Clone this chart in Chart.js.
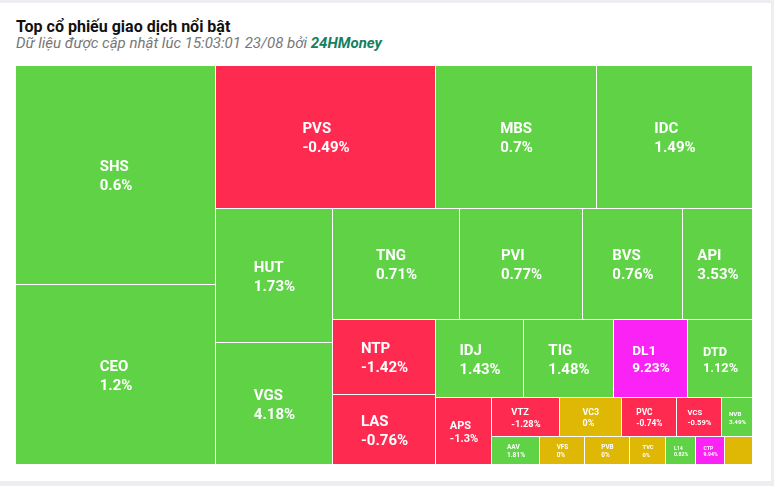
<!DOCTYPE html>
<html lang="vi">
<head>
<meta charset="utf-8">
<title>Top cổ phiếu giao dịch nổi bật</title>
<script src="https://cdn.jsdelivr.net/npm/chart.js@4.4.1/dist/chart.umd.min.js"></script>
<style>
  html, body { margin: 0; padding: 0; }
  body {
    width: 774px; height: 486px; background: #eceef2;
    font-family: Roboto, "Noto Sans", sans-serif;
    position: relative; overflow: hidden;
  }
  .card { position: absolute; left: 0; top: 3px; width: 771px; height: 478px; background: #fff; }
  .title { position: absolute; left: 16px; top: 17px; font-size: 16px; font-weight: 700; color: #111; line-height: 20px; white-space: nowrap; }
  .sub { position: absolute; left: 16px; top: 34px; font-size: 15px; font-style: italic; color: #777; line-height: 18px; white-space: nowrap; }
  .sub b { color: #14805f; }
  .chart-box { position: absolute; left: 16px; top: 66px; width: 737px; height: 399px; }
</style>
</head>
<body>
<div class="card"></div>
<div class="title">Top cổ phiếu giao dịch nổi bật</div>
<div class="sub">Dữ liệu được cập nhật lúc 15:03:01 23/08 bởi <b>24HMoney</b></div>
<div class="chart-box"><canvas id="treemap"></canvas></div>

<script>
// tickers, % change and trading size (cell area), in the order the site sends them
const tickers = ['SHS', 'CEO', 'PVS', 'MBS', 'IDC', 'HUT', 'VGS', 'TNG', 'PVI', 'BVS',
                 'API', 'NTP', 'LAS', 'IDJ', 'TIG', 'DL1', 'DTD', 'APS', 'VTZ', 'VC3',
                 'PVC', 'VCS', 'NVB', 'AAV', 'VFS', 'PVB', 'TVC', 'L14', 'CTP', ''];
const changes = [0.6, 1.2, -0.49, 0.7, 1.49, 1.73, 4.18, 0.71, 0.77, 0.76,
                 3.53, -1.42, -0.76, 1.43, 1.48, 9.23, 1.12, -1.3, -1.28, 0,
                 -0.74, -0.59, 3.49, 1.81, 0, 0, 0, 0.82, 9.94, 0];
const volumes = [4380, 3600, 3146, 2302, 2231, 1568, 1427, 1410, 1365, 1110,
                 777, 773, 721, 686, 702, 577, 507, 375, 265, 242,
                 215, 176, 121, 134, 126, 126, 101, 84, 81, 78];

const GREEN = '#5fd246', RED = '#ff2a50', PURPLE = '#fb22f5', YELLOW = '#deb804';

function cellColor(pct) {
  if (pct >= 9) return PURPLE;   // tran
  if (pct > 0) return GREEN;
  if (pct < 0) return RED;
  return YELLOW;
}

// squarified layout, direction flips after every strip
function layoutTreemap(areas, W, H) {
  const rects = [];
  let rx = 0, ry = 0, rw = W, rh = H;
  let vertical = true;
  let row = [], sum = 0;
  const ratio = (a, b) => Math.max(a / b, b / a);
  const flush = () => {
    if (vertical) {
      const colW = sum / rh;
      let y = ry;
      row.forEach(i => { const h = areas[i] / colW; rects[i] = {x: rx, y: y, w: colW, h: h}; y += h; });
      rx += colW; rw -= colW;
    } else {
      const rowH = sum / rw;
      let x = rx;
      row.forEach(i => { const w = areas[i] / rowH; rects[i] = {x: x, y: ry, w: w, h: rowH}; x += w; });
      ry += rowH; rh -= rowH;
    }
    vertical = !vertical;
    row = []; sum = 0;
  };
  areas.forEach((a, i) => {
    if (row.length) {
      const last = areas[row[row.length - 1]];
      const side = vertical ? rh : rw;
      const oldT = sum / side, newT = (sum + a) / side;
      if (ratio(oldT, last / oldT) < ratio(newT, last / newT)) flush();
    }
    row.push(i); sum += a;
  });
  if (row.length) flush();
  return rects;
}

class CellElement extends Chart.Element {
  static id = 'cell';
  static defaults = { backgroundColor: '#ccc', borderWidth: 1, labelColor: '#fff' };

  draw(ctx) {
    const o = this.options;
    const x0 = Math.round(this.x), y0 = Math.round(this.y);
    const x1 = Math.round(this.x + this.width), y1 = Math.round(this.y + this.height);
    ctx.save();
    ctx.fillStyle = o.backgroundColor;
    ctx.fillRect(x0, y0, x1 - x0 - o.borderWidth, y1 - y0 - o.borderWidth);

    const lines = this.lines || [];
    if (lines.length && lines[0]) {
      const f = Math.min(15, 0.18 * Math.sqrt(this.width * this.height));
      ctx.font = 'bold ' + f.toFixed(2) + 'px Roboto, "Noto Sans", sans-serif';
      ctx.fillStyle = o.labelColor;
      ctx.textAlign = 'left';
      ctx.textBaseline = 'alphabetic';
      const gap = 1.25 * f, capH = 0.711 * f;
      const blockW = Math.max(...lines.map(t => ctx.measureText(t).width));
      const cx = this.x + this.width / 2, cy = this.y + this.height / 2;
      const left = cx - blockW / 2;
      const top = cy - (capH + gap * (lines.length - 1)) / 2;
      lines.forEach((t, k) => ctx.fillText(t, left, top + capH + k * gap));
    }
    ctx.restore();
  }
}

class TreemapController extends Chart.DatasetController {
  static id = 'treemap';
  static defaults = { datasetElementType: false, dataElementType: 'cell' };
  static overrides = {};

  getMinMax() { return {min: 0, max: 1}; }

  update(mode) {
    const meta = this._cachedMeta;
    this.updateElements(meta.data, 0, meta.data.length, mode);
  }

  updateElements(cells, start, count, mode) {
    const meta = this._cachedMeta;
    const xs = meta.xScale, ys = meta.yScale;
    const W = xs.width, H = ys.height;
    const data = this.getDataset().data;
    const total = data.reduce((a, b) => a + b, 0);
    const rects = layoutTreemap(data.map(v => v / total * W * H), W, H);
    const labels = this.chart.data.labels;
    for (let i = start; i < start + count; i++) {
      const r = rects[i];
      const px0 = xs.getPixelForValue(r.x / W), px1 = xs.getPixelForValue((r.x + r.w) / W);
      const py0 = ys.getPixelForValue(r.y / H), py1 = ys.getPixelForValue((r.y + r.h) / H);
      this.updateElement(cells[i], i, {
        x: px0, y: py0, width: px1 - px0, height: py1 - py0,
        lines: [labels[i], changes[i] + '%'],
        options: this.resolveDataElementOptions(i, mode)
      }, mode);
    }
  }
}

Chart.register(CellElement, TreemapController);

const ctx = document.getElementById('treemap').getContext('2d');
const chart = new Chart(ctx, {
  type: 'treemap',
  data: {
    labels: tickers,
    datasets: [{
      label: 'Top cổ phiếu',
      data: volumes,
      backgroundColor: c => cellColor(changes[c.dataIndex])
    }]
  },
  options: {
    responsive: true,
    maintainAspectRatio: false,
    animation: false,
    events: [],
    layout: { padding: 0 },
    scales: {
      x: { type: 'linear', min: 0, max: 1, display: false },
      y: { type: 'linear', min: 0, max: 1, reverse: true, display: false }
    },
    plugins: {
      legend: { display: false },
      tooltip: { enabled: false }
    }
  }
});
</script>
</body>
</html>
